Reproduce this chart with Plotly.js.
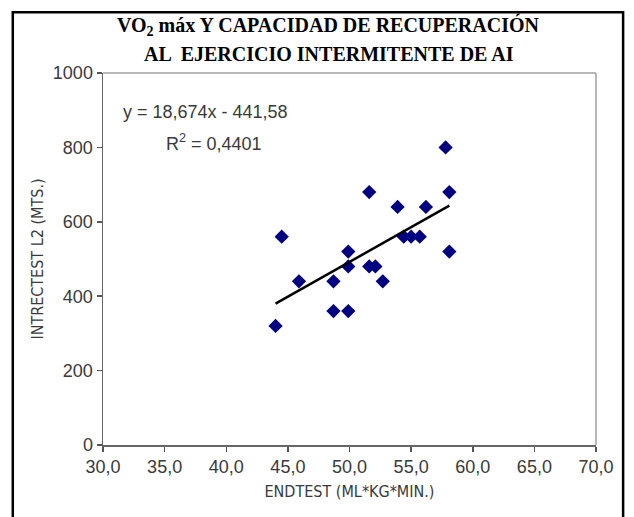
<!DOCTYPE html>
<html>
<head>
<meta charset="utf-8">
<script src="https://cdn.plot.ly/plotly-3.0.1.min.js"></script>
<style>
  html, body { margin: 0; padding: 0; background: #fff; }
  #chart { width: 634px; height: 517px; }
</style>
</head>
<body>
<div id="chart"></div>
<script>
// VO2 max (endurance test) versus intermittent recovery test distance
const endtest = [57.8, 51.6, 58.1, 53.9, 56.2, 44.5, 54.4, 55.0, 55.7, 49.9,
                 58.1, 45.9, 48.7, 52.7, 49.9, 51.6, 52.1, 48.7, 49.9, 44.0];
const intrectest = [800, 680, 680, 640, 640, 560, 560, 560, 560, 520,
                    520, 440, 440, 440, 480, 480, 480, 360, 360, 320];

// Linear trendline: y = 18,674x - 441,58 ; R² = 0,4401
const slope = 18.674;
const intercept = -441.58;
const rSquared = 0.4401;

const xTicks = [30, 35, 40, 45, 50, 55, 60, 65, 70];
const yTicks = [0, 200, 400, 600, 800, 1000];

const titleLines = ['VO<sub>2</sub> máx Y CAPACIDAD DE RECUPERACIÓN',
                    'AL  EJERCICIO INTERMITENTE DE AI'];

const xMin = Math.min(...endtest);
const xMax = Math.max(...endtest);
const trendX = [xMin, xMax];
const trendY = trendX.map(x => slope * x + intercept);

const fmt = (v, d) => v.toFixed(d).replace('.', ',');

const tickFont = { family: 'Liberation Sans, Arial, sans-serif', size: 18, color: '#3a3a3a' };
const narrowFont = { family: 'DejaVu Sans Condensed, Liberation Sans, sans-serif',
                     size: 16, color: '#3a3a3a' };
const titleFont = { family: 'Liberation Serif, Times New Roman, serif', size: 20, color: '#000' };

const data = [
  {
    x: endtest, y: intrectest, type: 'scatter', mode: 'markers',
    marker: { symbol: 'diamond', size: 11, color: '#000080' },
    hoverinfo: 'x+y'
  },
  {
    x: trendX, y: trendY, type: 'scatter', mode: 'lines',
    line: { color: '#000000', width: 2.5 },
    hoverinfo: 'skip'
  }
];

const layout = {
  width: 634, height: 517,
  margin: { l: 103, r: 38, t: 73, b: 72 },
  paper_bgcolor: '#ffffff', plot_bgcolor: '#ffffff',
  showlegend: false,
  separators: ',.',
  xaxis: {
    range: [30, 70], tickvals: xTicks, tickformat: '.1f',
    ticks: 'outside', ticklen: 5, tickcolor: '#555', tickwidth: 1.5,
    showline: true, linecolor: '#666', linewidth: 1.5, mirror: false,
    showgrid: false, zeroline: false,
    tickfont: tickFont,
    title: { text: 'ENDTEST (ML*KG*MIN.)', font: narrowFont, standoff: 9 }
  },
  yaxis: {
    range: [0, 1000], tickvals: yTicks,
    ticks: 'outside', ticklen: 5, tickcolor: '#555', tickwidth: 1.5,
    showline: true, linecolor: '#666', linewidth: 1.5, mirror: false,
    showgrid: false, zeroline: false,
    tickfont: tickFont,
    title: { text: 'INTRECTEST L2 (MTS.)', font: narrowFont, standoff: 5 }
  },
  shapes: [
    // light frame closing the plot area on top and right
    { type: 'line', xref: 'paper', yref: 'paper', x0: 0, x1: 1, y0: 1, y1: 1,
      line: { color: '#a0a0a0', width: 1.5 } },
    { type: 'line', xref: 'paper', yref: 'paper', x0: 1, x1: 1, y0: 0, y1: 1,
      line: { color: '#a0a0a0', width: 1.5 } },
    // outer black border around the whole figure
    { type: 'rect', xref: 'paper', yref: 'paper',
      x0: -0.183, x1: 1.055, y0: -0.25, y1: 1.163,
      line: { color: '#000', width: 2.5 }, layer: 'below' }
  ],
  annotations: [
    { xref: 'paper', yref: 'paper', x: 0.458, y: 1.127, xanchor: 'center', yanchor: 'middle',
      text: '<b>' + titleLines[0] + '</b>', showarrow: false, font: titleFont },
    { xref: 'paper', yref: 'paper', x: 0.458, y: 1.052, xanchor: 'center', yanchor: 'middle',
      text: '<b>' + titleLines[1] + '</b>', showarrow: false, font: titleFont },
    { xref: 'paper', yref: 'paper', x: 0.036, y: 0.895, xanchor: 'left', yanchor: 'middle',
      text: 'y = ' + fmt(slope, 3) + 'x - ' + fmt(-intercept, 2),
      showarrow: false, font: tickFont },
    { xref: 'paper', yref: 'paper', x: 0.124, y: 0.812, xanchor: 'left', yanchor: 'middle',
      text: 'R<sup>2</sup> = ' + fmt(rSquared, 4),
      showarrow: false, font: tickFont }
  ]
};

Plotly.newPlot('chart', data, layout, { displayModeBar: false, staticPlot: true });
</script>
</body>
</html>
